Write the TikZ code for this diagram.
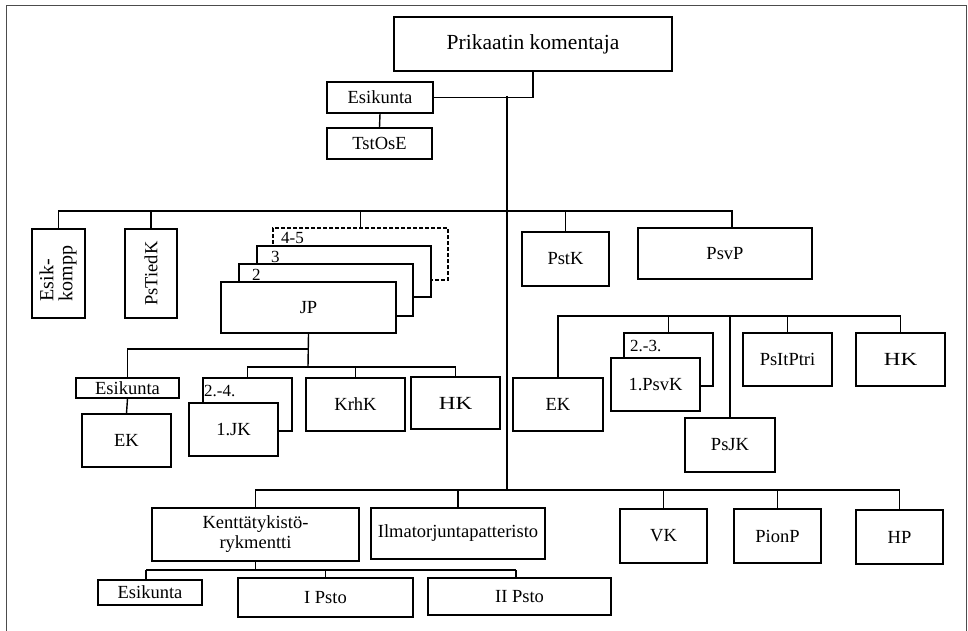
\documentclass[tikz,border=0pt]{standalone}
\usepackage{fontspec}
\setmainfont{Liberation Serif}
\usepackage{graphicx}
\newcommand\fsA{\fontsize{18.5}{20}\selectfont}
\newcommand\fsB{\fontsize{21.5}{24}\selectfont}
\newcommand\fsC{\fontsize{17}{19}\selectfont}
\newcommand\fsD{\fontsize{20}{17}\selectfont}
\newcommand\hkt{\scalebox{1.25}[1]{HK}}
\begin{document}
\begin{tikzpicture}[x=1pt,y=-1pt,
  bx/.style={draw,line width=1.4pt,fill=white,inner sep=0pt,font=\fsA,align=center},
  ln/.style={line width=1.4pt},
  lbl/.style={inner sep=0pt,font=\fsC,anchor=base west},
  framel/.style={line width=1pt,draw=black!70}]
\useasboundingbox (0,0) rectangle (968,631);
\fill[white] (0,0) rectangle (968,631);
\draw[framel] (6,631) -- (6,5.5) -- (966,5.5) -- (966,631);

% top
\node[bx,font=\fsB,minimum width=278pt,minimum height=54pt] (prik) at (533,44) {Prikaatin komentaja};
\node[bx,minimum width=106pt,minimum height=31pt] (esik1) at (380,97.5) {Esikunta};
\node[bx,minimum width=105pt,minimum height=31pt] (tst) at (379.5,143.5) {TstOsE};

% second level
\node[bx,minimum width=53pt,minimum height=89pt] (ekomp) at (58.5,273.5) {\rotatebox{90}{\fsD\begin{tabular}{@{}l@{}}Esik-\\kompp\end{tabular}}};
\node[bx,minimum width=52pt,minimum height=89pt] (pstied) at (151,273.5) {\rotatebox{90}{PsTiedK}};
\node[bx,dash pattern=on 4pt off 2pt,minimum width=175pt,minimum height=52pt] (d45) at (360.5,254) {};
\node[bx,minimum width=174pt,minimum height=51pt] (b3) at (344,271.5) {};
\node[bx,minimum width=174pt,minimum height=52pt] (b2) at (326,290) {};
\node[bx,minimum width=175pt,minimum height=51pt] (jp) at (308.5,307.5) {JP};
\node[lbl] (l45) at (281,243) {4-5};
\node[lbl] (l3) at (271,262) {3};
\node[lbl] (l2) at (252,280) {2};
\node[bx,minimum width=87pt,minimum height=54pt] (pstk) at (565.5,259) {PstK};
\node[bx,minimum width=174pt,minimum height=51pt] (psvp) at (725,253.5) {PsvP};

% JP subtree
\node[bx,minimum width=103pt,minimum height=20pt] (esik2) at (127.5,388) {Esikunta};
\node[bx,minimum width=89pt,minimum height=53pt] (ek1) at (126.5,440.5) {EK};
\node[bx,minimum width=89pt,minimum height=53pt] (jk24) at (247.5,404.5) {};
\node[bx,minimum width=89pt,minimum height=53pt] (jk1) at (233.5,429.5) {1.JK};
\node[lbl] (l24) at (204,396) {2.-4.};
\node[bx,minimum width=99pt,minimum height=53pt] (krhk) at (355.5,404.5) {KrhK};
\node[bx,minimum width=89pt,minimum height=52pt] (hk1) at (455.5,403) {\hkt};

% right subtree
\node[bx,minimum width=90pt,minimum height=53pt] (ek2) at (558,404.5) {EK};
\node[bx,minimum width=89pt,minimum height=53pt] (psvk23) at (668.5,359.5) {};
\node[bx,minimum width=89pt,minimum height=53pt] (psvk1) at (655.5,384.5) {1.PsvK};
\node[lbl] (l23) at (630,351) {2.-3.};
\node[bx,minimum width=90pt,minimum height=54pt] (psjk) at (730,445) {PsJK};
\node[bx,minimum width=89pt,minimum height=53pt] (psit) at (787.5,359.5) {PsItPtri};
\node[bx,minimum width=89pt,minimum height=53pt] (hk2) at (900.5,359.5) {\hkt};

% bottom
\node[bx,minimum width=207pt,minimum height=53pt] (kentta) at (255.5,534.5) {Kenttätykistö-\\rykmentti};
\node[bx,minimum width=174pt,minimum height=51pt] (ilma) at (458,533.5) {Ilmatorjuntapatteristo};
\node[bx,minimum width=87pt,minimum height=54pt] (vk) at (663.5,536) {VK};
\node[bx,minimum width=87pt,minimum height=54pt] (pionp) at (777.5,536) {PionP};
\node[bx,minimum width=87pt,minimum height=54pt] (hp) at (899.5,537) {HP};
\node[bx,minimum width=104pt,minimum height=25pt] (esik3) at (150,592.5) {Esikunta};
\node[bx,minimum width=175pt,minimum height=39pt] (ipsto) at (325.5,597.5) {I Psto};
\node[bx,minimum width=183pt,minimum height=37pt] (iipsto) at (519.5,596.5) {II Psto};

% coordinates
\coordinate (t1) at (507,96);
\coordinate (t3) at (507,490);
\coordinate (b1L) at (58.5,211);
\coordinate (b1R) at (732,211);
\coordinate (jA) at (308,349);
\coordinate (jB) at (308,367);
\coordinate (rL) at (558,316);
\coordinate (rR) at (900.5,316);
\coordinate (bL) at (255.5,490);
\coordinate (bR) at (899.5,490);
\coordinate (sL) at (146,570);
\coordinate (sR) at (516,570);

% connectors
\draw[ln] (prik.south) |- (esik1.east);
\draw[ln] (esik1.south) -- (tst.north);
\draw[ln] (t1) -- (t3);
\draw[ln] (ekomp.north) -- (b1L) -- (b1R) -- (b1R |- psvp.north);
\draw[ln] (pstied.north) -- (pstied.north |- b1L);
\draw[ln] (d45.north) -- (d45.north |- b1L);
\draw[ln] (pstk.north) -- (pstk.north |- b1L);

\draw[ln] (jp.south) -- (jB);
\draw[ln] (jA) -| (esik2.north);
\draw[ln] (esik2.south) -- (ek1.north);
\draw[ln] (jk24.north) |- (jB) -| (hk1.north);
\draw[ln] (krhk.north) -- (krhk.north |- jB);

\draw[ln] (ek2.north) -- (rL) -- (rR) -- (hk2.north);
\draw[ln] (psvk23.north) -- (psvk23.north |- rL);
\draw[ln] (psjk.north) -- (psjk.north |- rL);
\draw[ln] (psit.north) -- (psit.north |- rL);

\draw[ln] (kentta.north) -- (bL) -- (bR) -- (hp.north);
\draw[ln] (ilma.north) -- (ilma.north |- bL);
\draw[ln] (vk.north) -- (vk.north |- bL);
\draw[ln] (pionp.north) -- (pionp.north |- bL);

\draw[ln] (kentta.south) -- (kentta.south |- sL);
\draw[ln] (sL) -- (sR);
\draw[ln] (sL) -- (sL |- esik3.north);
\draw[ln] (ipsto.north) -- (ipsto.north |- sL);
\draw[ln] (sR) -- (sR |- iipsto.north);
\end{tikzpicture}
\end{document}
